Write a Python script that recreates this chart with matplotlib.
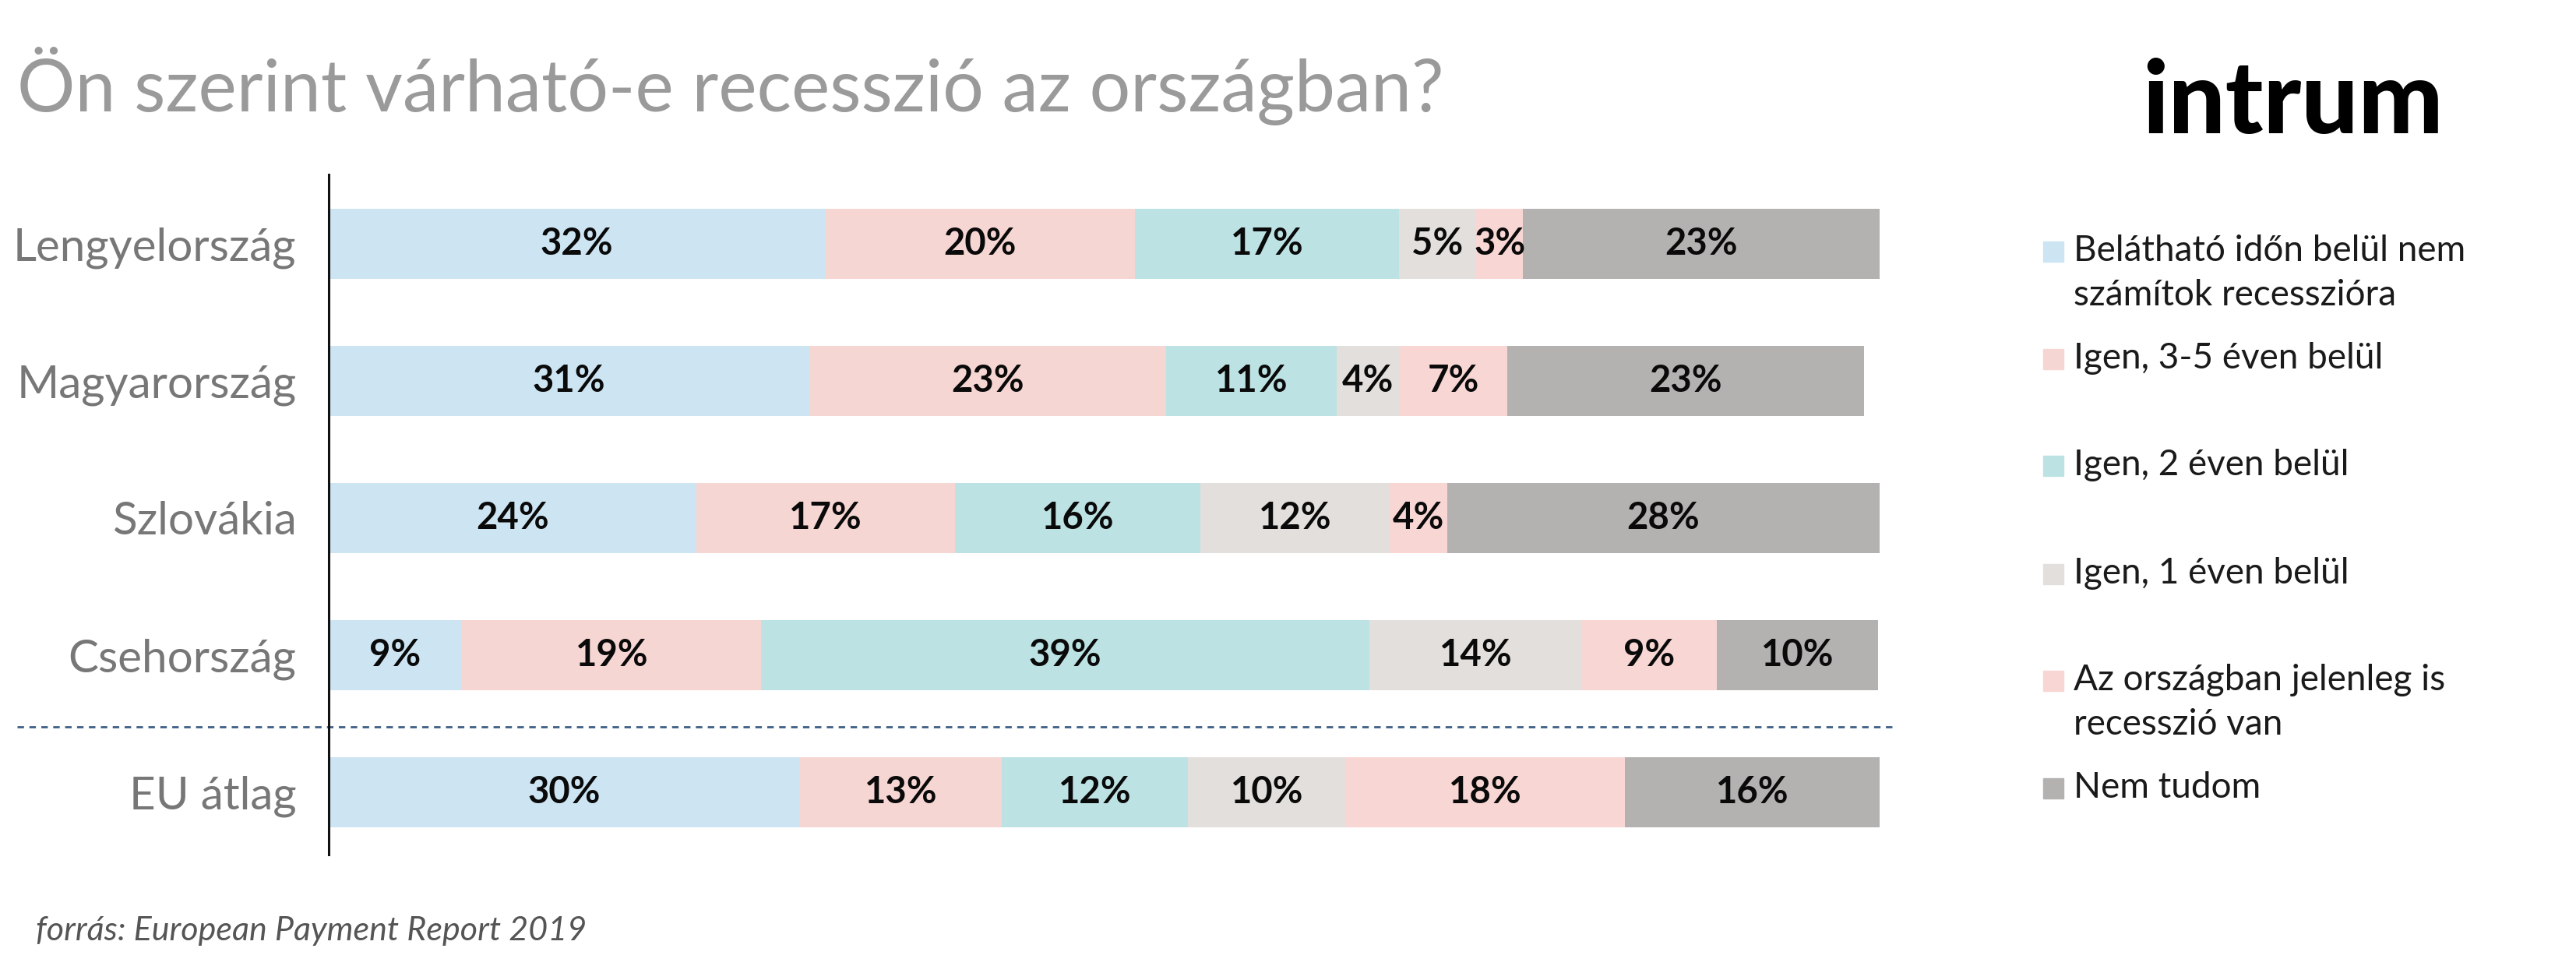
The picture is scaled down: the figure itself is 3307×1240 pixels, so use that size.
import matplotlib
matplotlib.use("Agg")
import matplotlib.pyplot as plt
from matplotlib.patches import Rectangle

# ---- data ----
categories = ["Lengyelország", "Magyarország", "Szlovákia", "Csehország", "EU átlag"]
series_names = [
    "Belátható időn belül nem\nszámítok recesszióra",
    "Igen, 3-5 éven belül",
    "Igen, 2 éven belül",
    "Igen, 1 éven belül",
    "Az országban jelenleg is\nrecesszió van",
    "Nem tudom",
]
nem_szamit = [32, 31, 23.7, 8.6, 30.4]
igen_3_5 = [20, 23, 16.7, 19.3, 13.0]
igen_2 = [17, 11, 15.8, 39.2, 12.0]
igen_1 = [5, 4, 12.2, 13.7, 10.2]
jelenleg = [3, 7, 3.7, 8.7, 18.0]
nem_tudom = [23, 23, 27.9, 10.4, 16.4]
series_values = [nem_szamit, igen_3_5, igen_2, igen_1, jelenleg, nem_tudom]
colors = ["#CDE4F3", "#F6D6D2", "#BDE2E3", "#E3DFDC", "#F8D6D4", "#B3B2B1"]

title = "Ön szerint várható-e recesszió az országban?"
source = "forrás: European Payment Report 2019"

W, H = 3307, 1240
fig = plt.figure(figsize=(W / 100, H / 100), dpi=100)

def fx(px):
    return px / W

def fy(py):
    return 1 - py / H

# axes placement: left 422, right 2413, top 224, bottom 1097
ax = fig.add_axes([fx(422), fy(1097), fx(2413 - 422), (1097 - 224) / H])
ax.set_xlim(0, 100)
ypos = list(range(len(categories)))
ax.set_ylim(4.455, -0.506)

lefts = [0.0] * len(categories)
for vals, col in zip(series_values, colors):
    ax.barh(ypos, vals, left=lefts, height=0.51, color=col, edgecolor="none")
    for y, l, v in zip(ypos, lefts, vals):
        ax.text(l + v / 2, y, f"{v:.0f}%", ha="center", va="center",
                fontsize=34, fontweight="bold", family="Lato", color="#0A0A0A")
    lefts = [a + b for a, b in zip(lefts, vals)]

ax.set_yticks(ypos)
ax.set_yticklabels(categories, fontsize=42, family="Lato", color="#777777")
ax.tick_params(axis="y", length=0, pad=30)
ax.set_xticks([])
for s in ["top", "right", "bottom"]:
    ax.spines[s].set_visible(False)
ax.spines["left"].set_linewidth(2.2)
ax.spines["left"].set_color("#111111")

# separator between countries and EU average
ax.plot([-20.1, 100.95], [3.523, 3.523], ls=(0, (3, 2.5)), lw=2.0,
        color="#3E5F86", clip_on=False)

# title
fig.text(fx(22), fy(143), title, fontsize=67, family="Lato", fontweight="normal",
         color="#9A9A9A", ha="left", va="baseline")

# logo
fig.text(fx(2750), fy(171), "intrum", fontsize=93, family="Lato", fontweight="black",
         color="#000000", ha="left", va="baseline")

# legend
leg_y = [323, 461, 598, 737, 874, 1012]
for name, col, yc in zip(series_names, colors, leg_y):
    fig.patches.append(Rectangle((fx(2623), fy(yc + 13)), fx(26), 26 / H,
                                 transform=fig.transFigure, color=col))
    fig.text(fx(2662), fy(yc - 22), name, fontsize=33, family="Lato",
             color="#1A1A1A", ha="left", va="top", linespacing=1.45)

# source
fig.text(fx(46), fy(1207), source, fontsize=31, family="Lato", style="italic",
         color="#555555", ha="left", va="baseline")

fig.savefig("out.png", dpi=100, facecolor="white")
